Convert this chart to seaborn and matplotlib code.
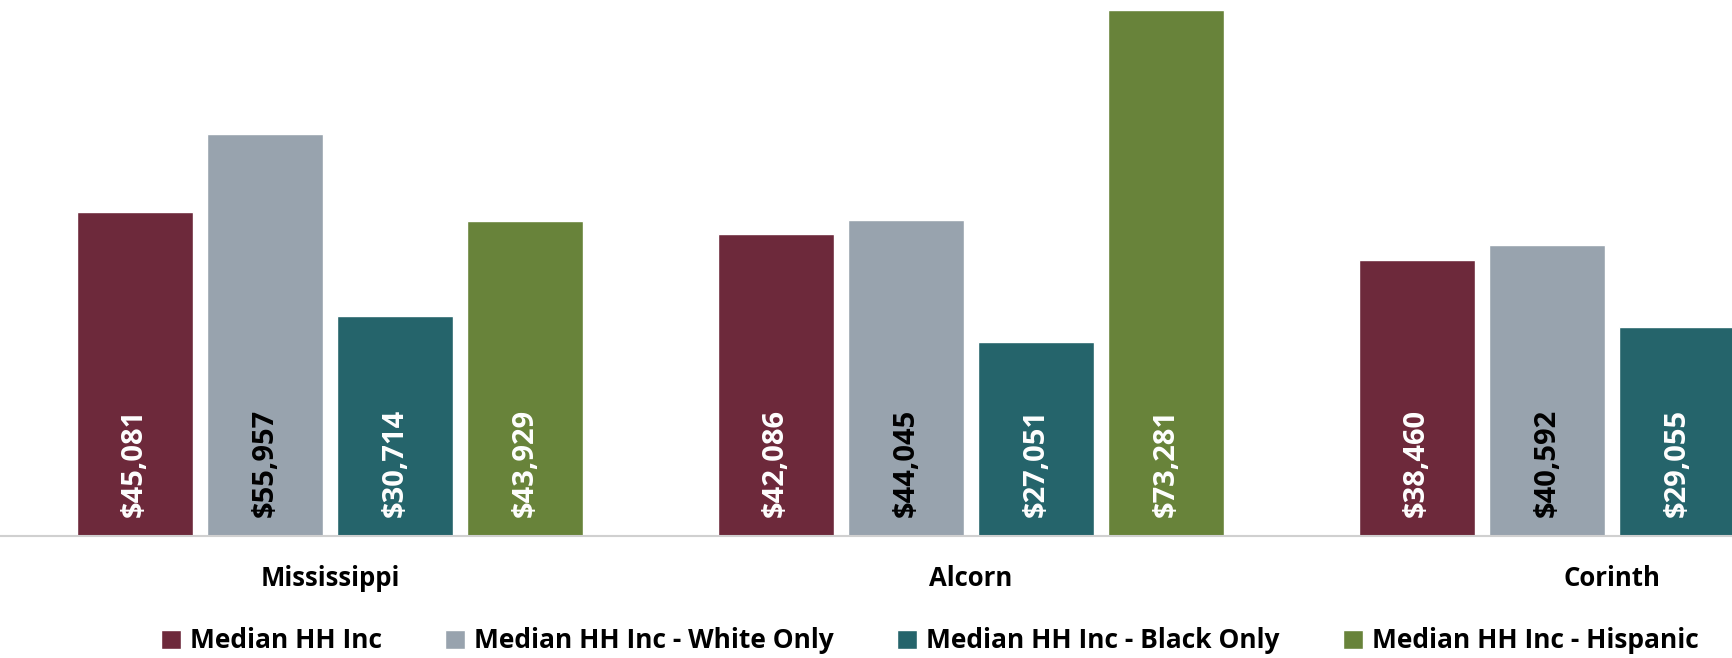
import numpy as np
import pandas as pd
import matplotlib
matplotlib.use("Agg")
import matplotlib.pyplot as plt
import seaborn as sns

categories = ["Mississippi", "Alcorn", "Corinth"]
series = ["Median HH Inc", "Median HH Inc - White Only",
          "Median HH Inc - Black Only", "Median HH Inc - Hispanic"]
inc_all = [45081, 42086, 38460]
inc_white = [55957, 44045, 40592]
inc_black = [30714, 27051, 29055]
inc_hisp = [43929, 73281, np.nan]  # Corinth Hispanic bar lies outside the visible frame

colors = ["#6D293B", "#98A3AE", "#25646B", "#68833A"]
label_colors = ["white", "black", "white", "white"]

rows = []
for s, vals in zip(series, [inc_all, inc_white, inc_black, inc_hisp]):
    for c, v in zip(categories, vals):
        rows.append({"Area": c, "Series": s, "Value": v})
df = pd.DataFrame(rows)

sns.set_theme(style="white")
plt.rcParams["font.family"] = ["Open Sans", "DejaVu Sans"]

W, H = 1733, 658
fig = plt.figure(figsize=(W / 100, H / 100), dpi=100)
base_px = 536
ax = fig.add_axes([0, (H - base_px) / H, 1, base_px / H])

sns.barplot(data=df, x="Area", y="Value", hue="Series", order=categories,
            hue_order=series, palette=colors, saturation=1, width=0.813,
            gap=0.11, ax=ax, errorbar=None)

px_per_unit = 526 / 73281
ax.set_ylim(0, base_px / px_per_unit)
cx0, spacing = 330, 641
ax.set_xlim(-cx0 / spacing, (W - cx0) / spacing)

# data labels
for i, cont in enumerate(ax.containers):
    for bar, v in zip(cont, df[df["Series"] == series[i]]["Value"]):
        if np.isnan(v):
            continue
        ax.annotate(f"${v:,.0f}", (bar.get_x() + bar.get_width() / 2, 0),
                    xytext=(0, 14), textcoords="offset points",
                    rotation=90, ha="center", va="bottom",
                    fontsize=21, fontweight="bold", color=label_colors[i])

for s in ["left", "right", "top"]:
    ax.spines[s].set_visible(False)
ax.spines["bottom"].set_color("#D0D0D0")
ax.spines["bottom"].set_linewidth(1.5)
ax.set_yticks([])
ax.set_xlabel("")
ax.set_ylabel("")
ax.tick_params(axis="x", length=0, pad=21, labelsize=18.5)
for t in ax.get_xticklabels():
    t.set_fontweight("bold")
    t.set_color("black")

handles, labels = ax.get_legend_handles_labels()
ax.get_legend().remove()
leg = fig.legend(handles, labels, loc="center", bbox_to_anchor=(930 / W, 1 - 641 / H),
                 ncol=4, frameon=False, prop={"weight": "bold", "size": 19},
                 handlelength=0.75, handleheight=0.75, handletextpad=0.35,
                 columnspacing=2.4)
for t in leg.get_texts():
    t.set_color("black")

fig.savefig("out.png", dpi=100)
